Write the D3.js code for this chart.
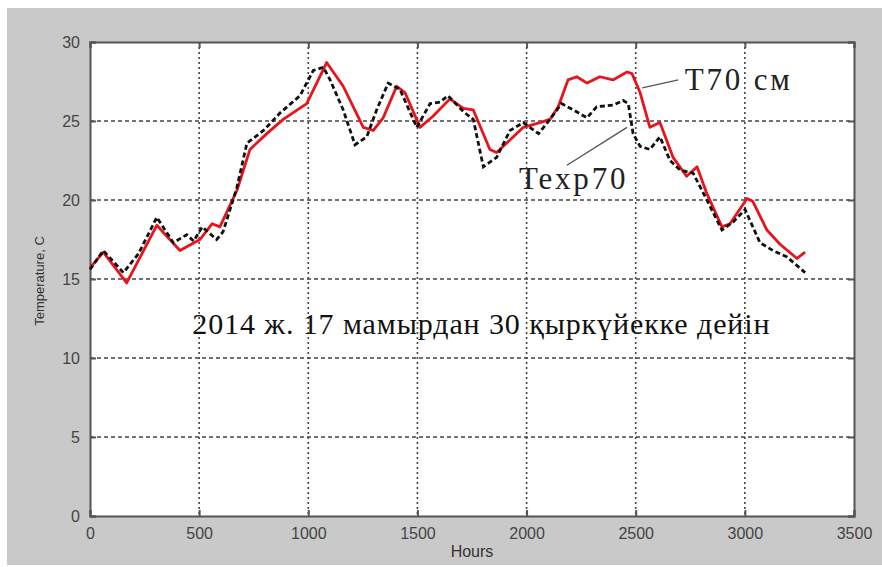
<!DOCTYPE html>
<html>
<head>
<meta charset="utf-8">
<script src="https://cdn.jsdelivr.net/npm/d3@7"></script>
<style>
  html, body { margin: 0; padding: 0; background: #fff; }
  svg { display: block; }
</style>
</head>
<body>
<svg id="chart" width="882" height="567"></svg>
<script>
// Simulated soil temperature at 70 cm (T70 см)
const simHours = [0, 61, 168, 306, 412, 504, 560, 595, 673, 733, 810, 885, 993, 1084, 1160, 1252, 1298, 1343, 1405, 1443, 1512, 1571, 1649, 1710, 1756, 1832, 1863, 1924, 1985, 2061, 2107, 2145, 2190, 2230, 2277, 2336, 2396, 2460, 2483, 2520, 2565, 2611, 2671, 2733, 2781, 2826, 2895, 2932, 3010, 3037, 3101, 3161, 3239, 3276];
const simTemp  = [15.7, 16.7, 14.75, 18.4, 16.8, 17.5, 18.5, 18.3, 20.6, 23.2, 24.2, 25.1, 26.1, 28.7, 27.2, 24.6, 24.4, 25.2, 27.2, 26.8, 24.6, 25.3, 26.4, 25.8, 25.7, 23.2, 23.0, 23.8, 24.6, 24.9, 25.1, 25.9, 27.6, 27.8, 27.4, 27.8, 27.6, 28.1, 28.0, 26.8, 24.6, 24.9, 22.7, 21.5, 22.1, 20.4, 18.3, 18.5, 20.1, 19.9, 18.1, 17.2, 16.3, 16.7];

// Measured temperature at 70 cm (Texp70)
const expHours = [0, 61, 153, 222, 306, 382, 443, 475, 514, 580, 610, 673, 719, 795, 870, 962, 1023, 1069, 1100, 1160, 1214, 1268, 1313, 1366, 1420, 1497, 1558, 1603, 1640, 1710, 1756, 1802, 1863, 1924, 1985, 2055, 2107, 2160, 2215, 2277, 2321, 2396, 2442, 2466, 2488, 2520, 2565, 2611, 2657, 2703, 2763, 2826, 2895, 2946, 3001, 3069, 3129, 3193, 3276];
const expTemp  = [15.6, 16.8, 15.4, 16.6, 18.9, 17.3, 17.8, 17.4, 18.3, 17.5, 18.0, 20.8, 23.6, 24.4, 25.5, 26.6, 28.2, 28.4, 27.6, 25.7, 23.5, 24.0, 25.7, 27.4, 27.0, 24.6, 26.1, 26.2, 26.6, 25.6, 25.1, 22.1, 22.7, 24.4, 24.9, 24.2, 25.1, 26.1, 25.7, 25.2, 25.9, 26.0, 26.3, 26.1, 24.2, 23.4, 23.2, 24.0, 22.5, 21.9, 21.7, 20.0, 18.1, 18.6, 19.4, 17.3, 16.8, 16.4, 15.4];

const xTicks = [0, 500, 1000, 1500, 2000, 2500, 3000, 3500];
const yTicks = [0, 5, 10, 15, 20, 25, 30];

const xLabel = "Hours";
const yLabel = "Temperature, C";
const periodNote = "2014 ж. 17 мамырдан 30 қыркүйекке дейін";
const simName = "T70 см";
const expName = "Texp70";

const svg = d3.select("#chart");
const W = 882, H = 567;
const plot = { left: 90, right: 854, top: 42, bottom: 516 };

// figure background
svg.append("rect").attr("x", 7).attr("y", 8).attr("width", W - 7).attr("height", 557).attr("fill", "#c9c9c9");

const x = d3.scaleLinear().domain([0, 3500]).range([plot.left, plot.right]);
const y = d3.scaleLinear().domain([0, 30]).range([plot.bottom, plot.top]);

// axes area
svg.append("rect")
  .attr("x", plot.left).attr("y", plot.top)
  .attr("width", plot.right - plot.left).attr("height", plot.bottom - plot.top)
  .attr("fill", "#ffffff");

// grid
const grid = svg.append("g").attr("stroke", "#444").attr("stroke-width", 1.6);
grid.selectAll(".gx").data(xTicks.slice(1, -1)).join("line")
  .attr("x1", d => x(d)).attr("x2", d => x(d))
  .attr("y1", plot.top).attr("y2", plot.bottom)
  .attr("stroke-dasharray", "2,3");
grid.selectAll(".gy").data(yTicks.slice(1, -1)).join("line")
  .attr("x1", plot.left).attr("x2", plot.right)
  .attr("y1", d => y(d)).attr("y2", d => y(d))
  .attr("stroke-dasharray", "4,3");

// axes with inward ticks
const axisColor = "#555";
const fontAxis = "'Liberation Sans', Arial, sans-serif";

const xAxis = svg.append("g").attr("transform", `translate(0,${plot.bottom})`)
  .call(d3.axisBottom(x).tickValues(xTicks).tickSize(-6).tickPadding(12).tickFormat(d3.format("d")));
const yAxis = svg.append("g").attr("transform", `translate(${plot.left},0)`)
  .call(d3.axisLeft(y).tickValues(yTicks).tickSize(-6).tickPadding(10).tickFormat(d3.format("d")));
const xTop = svg.append("g").attr("transform", `translate(0,${plot.top})`)
  .call(d3.axisTop(x).tickValues(xTicks).tickSize(-6).tickFormat(""));
const yRight = svg.append("g").attr("transform", `translate(${plot.right},0)`)
  .call(d3.axisRight(y).tickValues(yTicks).tickSize(-6).tickFormat(""));

[xAxis, yAxis, xTop, yRight].forEach(g => {
  g.selectAll(".domain").attr("stroke", axisColor).attr("stroke-width", 2);
  g.selectAll(".tick line").attr("stroke", axisColor).attr("stroke-width", 2);
  g.selectAll(".tick text").attr("fill", "#444").style("font-family", fontAxis).style("font-size", "16px");
});

// series lines
const line = d3.line().x(d => x(d[0])).y(d => y(d[1]));
const simData = simHours.map((h, i) => [h, simTemp[i]]);
const expData = expHours.map((h, i) => [h, expTemp[i]]);

svg.append("path").datum(simData)
  .attr("d", line).attr("fill", "none")
  .attr("stroke", "#e8141c").attr("stroke-width", 2.8).attr("stroke-linejoin", "round");

svg.append("path").datum(expData)
  .attr("d", line).attr("fill", "none")
  .attr("stroke", "#111").attr("stroke-width", 2.8).attr("stroke-dasharray", "5,3");

// annotations
const serif = "'Liberation Serif', 'Times New Roman', serif";
svg.append("line")
  .attr("x1", x(2530)).attr("y1", y(27.1)).attr("x2", x(2695)).attr("y2", y(27.6))
  .attr("stroke", "#555").attr("stroke-width", 1.4);
svg.append("text").attr("x", x(2725)).attr("y", 90)
  .attr("font-family", serif).attr("font-size", 31).attr("fill", "#222")
  .attr("letter-spacing", 2.8).text(simName);

svg.append("line")
  .attr("x1", x(2460)).attr("y1", y(24.6)).attr("x2", x(2185)).attr("y2", y(22.2))
  .attr("stroke", "#555").attr("stroke-width", 1.4);
svg.append("text").attr("x", x(1965)).attr("y", 189)
  .attr("font-family", serif).attr("font-size", 31).attr("fill", "#222")
  .attr("letter-spacing", 2.8).text(expName);

svg.append("text").attr("x", x(1793)).attr("y", 334)
  .attr("text-anchor", "middle")
  .attr("font-family", serif).attr("font-size", 30).attr("fill", "#111")
  .attr("letter-spacing", 0.9)
  .text(periodNote);

// axis titles
svg.append("text").attr("x", x(1750)).attr("y", 557)
  .attr("text-anchor", "middle")
  .attr("font-family", fontAxis).attr("font-size", 16).attr("fill", "#333")
  .text(xLabel);

svg.append("text")
  .attr("transform", `translate(44,${y(15) + 2}) rotate(-90)`)
  .attr("text-anchor", "middle")
  .attr("font-family", fontAxis).attr("font-size", 13).attr("fill", "#333")
  .text(yLabel);
</script>
</body>
</html>
